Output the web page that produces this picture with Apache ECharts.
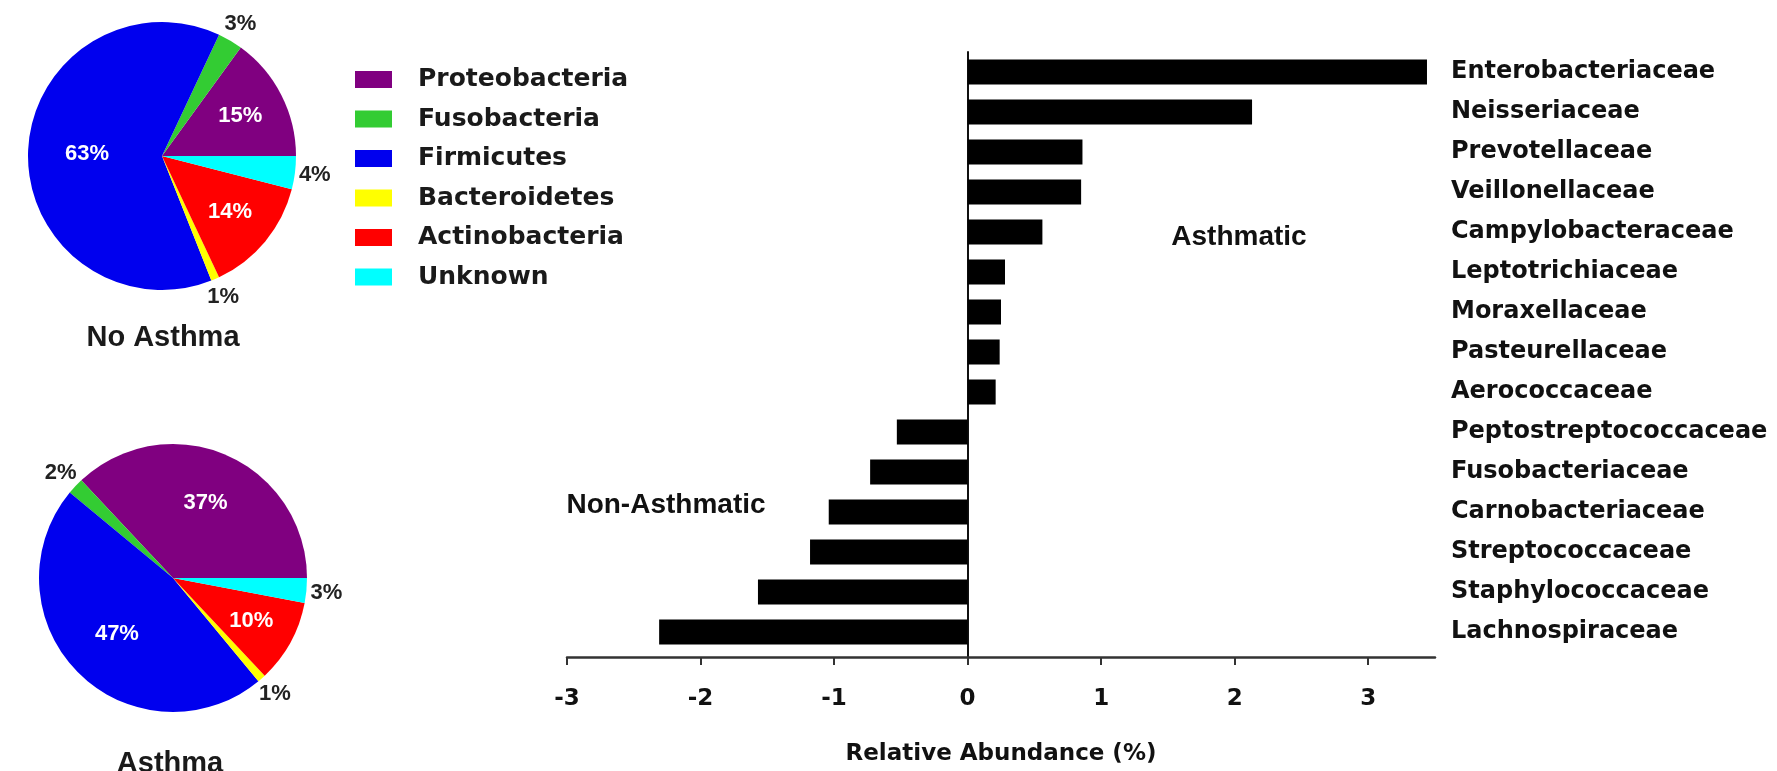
<!DOCTYPE html>
<html>
<head>
<meta charset="utf-8">
<script src="https://cdn.jsdelivr.net/npm/echarts@6/dist/echarts.min.js"></script>
<style>
html,body{margin:0;padding:0;background:#fff;}
#main{width:1777px;height:771px;}
</style>
</head>
<body>
<div id="main"></div>
<script>
// ---- data ----
const phyla = ['Proteobacteria','Fusobacteria','Firmicutes','Bacteroidetes','Actinobacteria','Unknown'];
const noAsthmaPct = [15, 3, 63, 1, 14, 4];
const asthmaPct = [37, 2, 47, 1, 10, 3];
const families = ['Enterobacteriaceae','Neisseriaceae','Prevotellaceae','Veillonellaceae','Campylobacteraceae',
  'Leptotrichiaceae','Moraxellaceae','Pasteurellaceae','Aerococcaceae','Peptostreptococcaceae',
  'Fusobacteriaceae','Carnobacteriaceae','Streptococcaceae','Staphylococcaceae','Lachnospiraceae'];
const abundance = [3.44, 2.13, 0.86, 0.85, 0.56, 0.28, 0.25, 0.24, 0.21, -0.53, -0.73, -1.04, -1.18, -1.57, -2.31];
const xTicks = [-3, -2, -1, 0, 1, 2, 3];
const pieTitles = ['No Asthma', 'Asthma'];
const sideLabels = ['Asthmatic', 'Non-Asthmatic'];
const xAxisName = 'Relative Abundance (%)';

// ---- styles ----
const phylaColors = ['#800080', '#33cc33', '#0000ee', '#ffff00', '#ff0000', '#00ffff'];
const pieCenters = [[162, 156], [173, 578]];
const pieR = 134;
const SANS = 'Liberation Sans, Arial, sans-serif';
const WIDE = 'DejaVu Sans, sans-serif';

function pieData(vals) {
  return vals.map((v, i) => {
    const inside = v >= 10;
    return {
      name: phyla[i], value: v,
      itemStyle: { color: phylaColors[i] },
      label: inside ? { position: 'inside', color: '#ffffff' } : { position: 'outside', color: '#222' }
    };
  });
}

function pieSeries(vals, idx) {
  const total = vals.reduce((a, b) => a + b, 0);
  return {
    type: 'pie',
    center: pieCenters[idx],
    radius: pieR,
    startAngle: 0,
    clockwise: false,
    avoidLabelOverlap: false,
    animation: false,
    data: pieData(vals),
    label: {
      formatter: '{c}%',
      fontFamily: SANS, fontWeight: 'bold', fontSize: 22
    },
    labelLine: { show: false, length: 8, length2: 0 },
    labelLayout: function (p) {
      const i = p.dataIndex;
      let cum = 0;
      for (let k = 0; k < i; k++) cum += vals[k];
      const v = vals[i];
      const a = (cum + v / 2) / total * 2 * Math.PI;   // counter-clockwise from 3 o'clock
      const r = v >= 10 ? (92 - 0.27 * v) : 154;
      const c = pieCenters[idx];
      return { x: c[0] + r * Math.cos(a), y: c[1] - r * Math.sin(a), align: 'center', verticalAlign: 'middle' };
    },
    emphasis: { disabled: true }
  };
}

const chart = echarts.init(document.getElementById('main'), null, { renderer: 'canvas' });

const option = {
  backgroundColor: '#ffffff',
  animation: false,
  legend: {
    data: phyla,
    orient: 'vertical',
    left: 355, top: 67,
    padding: 0,
    itemWidth: 37, itemHeight: 17,
    itemGap: 14.5,
    icon: 'rect',
    selectedMode: false,
    textStyle: { fontFamily: WIDE, fontWeight: 'bold', fontSize: 25, lineHeight: 25, color: '#1a1a1a', padding: [0, 0, 0, 21] }
  },
  grid: [
    { left: 567, right: 342, top: 52, height: 600 },
    { left: 567, right: 342, top: 52, bottom: 112 }
  ],
  xAxis: [
    { type: 'value', gridIndex: 0, min: -3, max: 3.5, show: false },
    {
      type: 'value', gridIndex: 1, min: -3, max: 3.5,
      splitLine: { show: false },
      axisLine: { show: true, onZero: true, lineStyle: { color: '#333', width: 2.5 } },
      axisTick: { show: true, length: 8, lineStyle: { color: '#333', width: 2 }, customValues: xTicks },
      axisLabel: { customValues: xTicks, margin: 31, fontFamily: WIDE, fontWeight: 'bold', fontSize: 23, color: '#111' },
      name: xAxisName, nameLocation: 'middle', nameGap: 86,
      nameTextStyle: { fontFamily: WIDE, fontWeight: 'bold', fontSize: 23, color: '#111' }
    }
  ],
  yAxis: [
    {
      type: 'category', gridIndex: 0, data: families, inverse: true, position: 'right',
      axisLine: { show: false, onZero: false }, axisTick: { show: false },
      axisLabel: { margin: 16, align: 'left', fontFamily: WIDE, fontWeight: 'bold', fontSize: 24, color: '#111' }
    },
    {
      type: 'value', gridIndex: 1, min: 0, max: 1,
      splitLine: { show: false }, axisTick: { show: false }, axisLabel: { show: false },
      axisLine: { show: true, onZero: true, lineStyle: { color: '#111', width: 2 } }
    }
  ],
  graphic: [
    { type: 'text', x: 163, y: 338, style: { text: pieTitles[0], align: 'center', verticalAlign: 'middle', font: 'bold 29px ' + SANS, fill: '#1a1a1a' } },
    { type: 'text', x: 170, y: 764, style: { text: pieTitles[1], align: 'center', verticalAlign: 'middle', font: 'bold 29px ' + SANS, fill: '#1a1a1a' } },
    { type: 'text', x: 1239, y: 237, style: { text: sideLabels[0], align: 'center', verticalAlign: 'middle', font: 'bold 28px ' + SANS, fill: '#111' } },
    { type: 'text', x: 666, y: 505, style: { text: sideLabels[1], align: 'center', verticalAlign: 'middle', font: 'bold 28px ' + SANS, fill: '#111' } }
  ],
  series: [
    pieSeries(noAsthmaPct, 0),
    pieSeries(asthmaPct, 1),
    {
      type: 'bar', xAxisIndex: 0, yAxisIndex: 0,
      data: abundance, barWidth: 25,
      itemStyle: { color: '#000' },
      emphasis: { disabled: true }
    }
  ]
};
chart.setOption(option);
</script>
</body>
</html>
